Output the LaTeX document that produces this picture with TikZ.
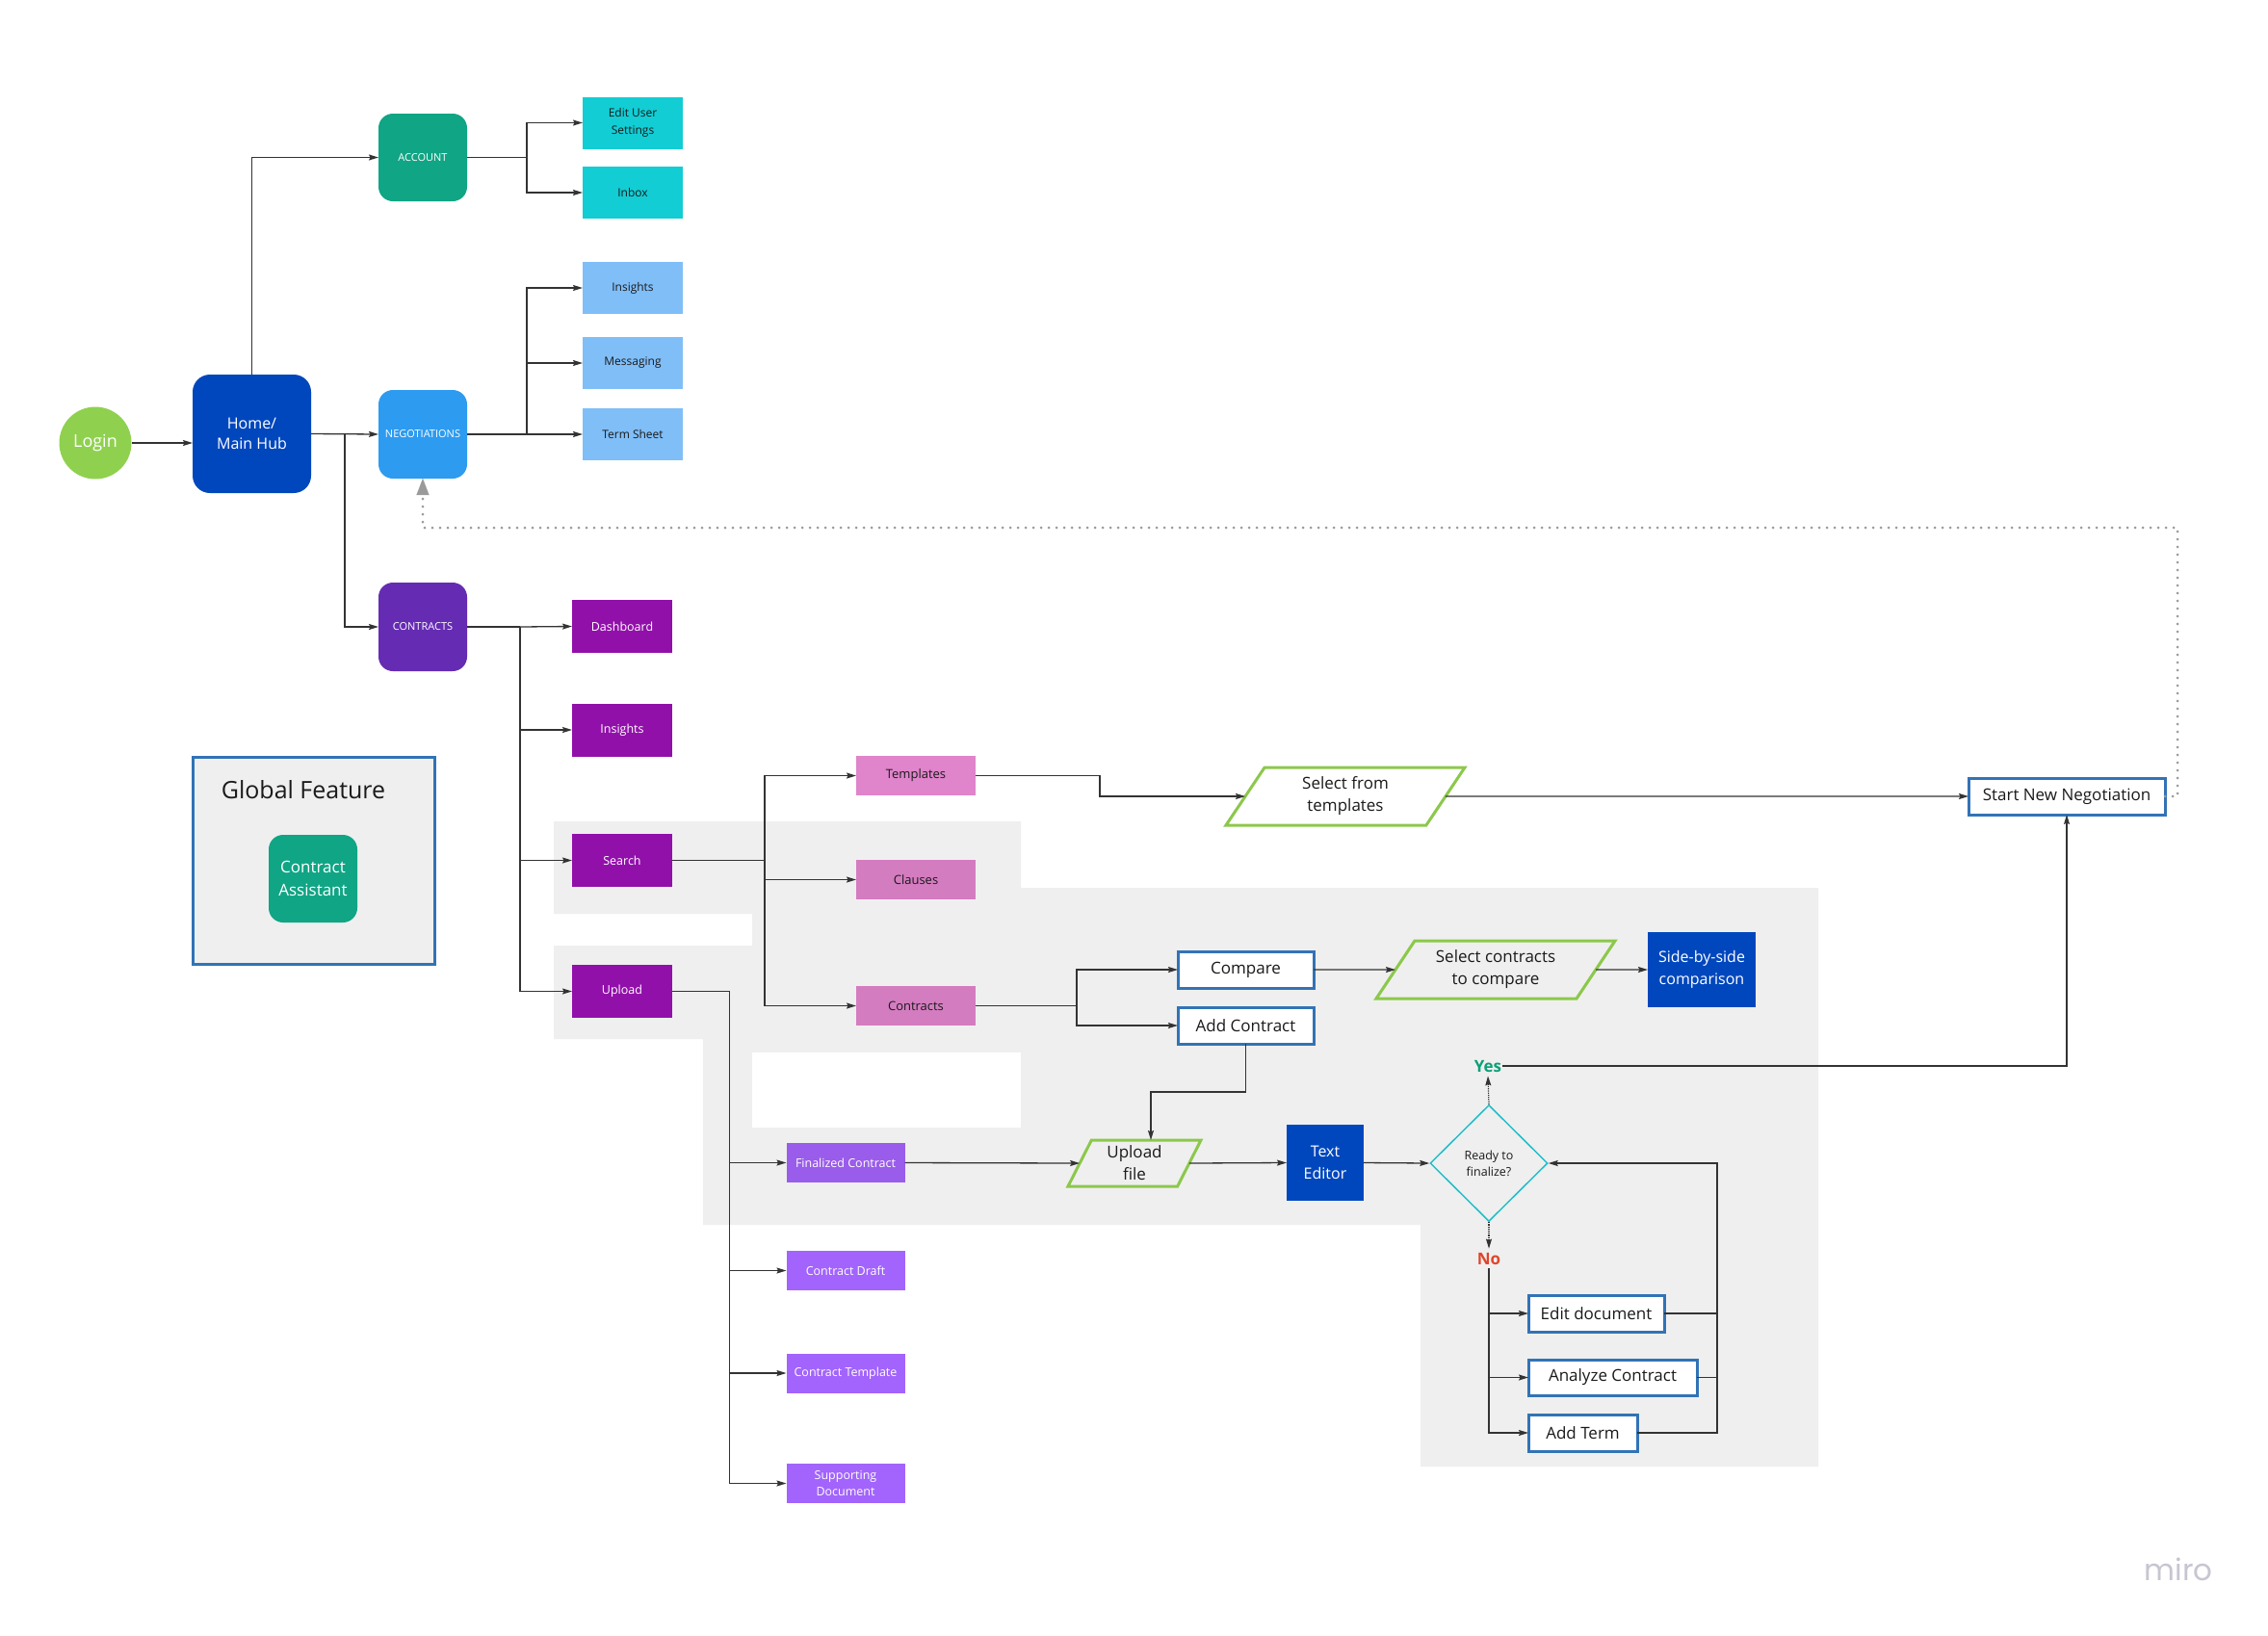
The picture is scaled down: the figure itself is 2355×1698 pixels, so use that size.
\documentclass[tikz,border=0pt]{standalone}
\usepackage{fontspec}
\setmainfont{Open Sans}
\newfontfamily\logofont{Poppins}
\usetikzlibrary{arrows.meta,shapes.geometric,calc}

\definecolor{cLogin}{HTML}{8FD14F}
\definecolor{cHome}{HTML}{0047BD}
\definecolor{cAcc}{HTML}{10A585}
\definecolor{cNeg}{HTML}{2D9BF0}
\definecolor{cCon}{HTML}{652CB3}
\definecolor{cCyan}{HTML}{12CDD4}
\definecolor{cLBlue}{HTML}{80BEF8}
\definecolor{cPurp}{HTML}{9210AA}
\definecolor{cPinkA}{HTML}{E084CB}
\definecolor{cPinkB}{HTML}{D47CC0}
\definecolor{cViolA}{HTML}{9A5CEA}
\definecolor{cViolB}{HTML}{A264FC}
\definecolor{cOut}{HTML}{3273B6}
\definecolor{cPara}{HTML}{8CC84B}
\definecolor{cDia}{HTML}{20BFCB}
\definecolor{cBg}{HTML}{EFEFEF}
\definecolor{cLine}{HTML}{333333}
\definecolor{cTxt}{HTML}{1A1A1A}
\definecolor{cYes}{HTML}{0CA078}
\definecolor{cNo}{HTML}{E0452B}
\definecolor{cDot}{HTML}{9A9A9A}
\definecolor{cMiro}{HTML}{C6C6D2}

\tikzset{
  box/.style={rectangle, inner sep=0pt, outer sep=0pt, align=center},
  rbox/.style={box, rounded corners=15pt, text=white, font=\fontsize{11}{14}\selectfont},
  subbox/.style={box, minimum width=104pt, minimum height=54pt, text=cTxt, font=\fontsize{12}{18}\selectfont},
  purbox/.style={box, fill=cPurp, minimum width=104pt, minimum height=55pt, text=white, font=\fontsize{12.5}{17}\selectfont},
  pinkbox/.style={box, minimum width=124pt, minimum height=41pt, text=cTxt, font=\fontsize{13}{17}\selectfont},
  violbox/.style={box, minimum width=123pt, minimum height=41pt, text=white, font=\fontsize{12.5}{17}\selectfont},
  outbox/.style={box, draw=cOut, line width=3pt, fill=white, minimum height=38pt, text=cTxt, font=\fontsize{17}{22}\selectfont},
  darkbox/.style={box, fill=cHome, text=white, font=\fontsize{16}{22.5}\selectfont},
  parabox/.style={trapezium, trapezium stretches body=true, draw=cPara, line width=3pt, inner sep=0pt, outer sep=0pt, align=center, text=cTxt, font=\fontsize{17}{23}\selectfont},
  ln/.style={cLine, line width=1.3pt},
  arr/.style={ln, -{Stealth[length=10pt,width=6pt,inset=1.5pt]}},
  dotarr/.style={cDot, line width=3pt, line cap=round, dash pattern=on 0pt off 8pt, -{Triangle[length=17pt,width=13pt,line width=0.1pt]}},
  smalldot/.style={cLine, line width=1.2pt, densely dotted, -{Stealth[length=10pt,width=6pt,inset=1.5pt]}},
}

\begin{document}
\begin{tikzpicture}[x=1pt, y=-1pt]
\useasboundingbox (0,0) rectangle (2355,1698);
\fill[white] (0,0) rectangle (2355,1698);

% grey background regions
\fill[cBg] (575,853) -- (1060,853) -- (1060,922) -- (1888,922) -- (1888,1523) -- (1475,1523) -- (1475,1272) -- (730,1272) -- (730,1079) -- (575,1079) -- (575,982) -- (781,982) -- (781,949) -- (575,949) -- cycle;
\fill[white] (781,1093) rectangle (1060,1171);

% global feature
\node[box, draw=cOut, line width=3pt, fill=cBg, minimum width=251pt, minimum height=215pt] (gf) at (325.5,893.5) {};
\node[text=cTxt, font=\fontsize{25}{30}\selectfont, inner sep=0pt] (gft) at (315,820) {Global Feature};
\node[rbox, fill=cAcc, minimum width=92pt, minimum height=91pt, font=\fontsize{17}{23.5}\selectfont] (ca) at (325,912.5) {Contract\\Assistant};

% main nodes
\node[circle, fill=cLogin, minimum size=75pt, inner sep=0pt, text=white, font=\fontsize{18}{22}\selectfont] (login) at (99,460) {Login};
\node[rbox, fill=cHome, minimum width=123pt, minimum height=123pt, rounded corners=18pt, font=\fontsize{16}{21}\selectfont] (home) at (261.5,450.5) {Home/\\Main Hub};
\node[rbox, fill=cAcc, minimum width=92pt, minimum height=91pt] (acc) at (439,163.5) {ACCOUNT};
\node[rbox, fill=cNeg, minimum width=92pt, minimum height=92pt] (neg) at (439,451) {NEGOTIATIONS};
\node[rbox, fill=cCon, minimum width=92pt, minimum height=92pt] (con) at (439,651) {CONTRACTS};

\node[subbox, fill=cCyan] (eus) at (657,127.5) {Edit User\\Settings};
\node[subbox, fill=cCyan] (inbox) at (657,200) {Inbox};
\node[subbox, fill=cLBlue] (insA) at (657,299) {Insights};
\node[subbox, fill=cLBlue] (msg) at (657,377) {Messaging};
\node[subbox, fill=cLBlue] (term) at (657,451) {Term Sheet};

\node[purbox] (dash) at (646,650.5) {Dashboard};
\node[purbox] (insB) at (646,758) {Insights};
\node[purbox] (search) at (646,893.5) {Search};
\node[purbox] (upload) at (646,1029.5) {Upload};

\node[pinkbox, fill=cPinkA] (tmpl) at (951,805.5) {Templates};
\node[pinkbox, fill=cPinkB] (claus) at (951,913.5) {Clauses};
\node[pinkbox, fill=cPinkB] (pcon) at (951,1044.5) {Contracts};

\node[violbox, fill=cViolA] (fin) at (878,1207.5) {Finalized Contract};
\node[violbox, fill=cViolB] (draft) at (878,1319.5) {Contract Draft};
\node[violbox, fill=cViolB] (ctpl) at (878,1426) {Contract Template};
\node[violbox, fill=cViolB] (supp) at (878,1540.5) {Supporting\\Document};

\node[parabox, trapezium left angle=45, trapezium right angle=135, minimum width=248pt, minimum height=60pt] (sft) at (1397,827) {Select from\\templates};
\node[outbox, minimum width=204pt] (snn) at (2146,827) {Start New Negotiation};
\node[outbox, minimum width=141pt] (cmp) at (1293.5,1007) {Compare};
\node[outbox, minimum width=141pt] (addc) at (1293.5,1065) {Add Contract};
\node[parabox, trapezium left angle=45, trapezium right angle=135, minimum width=248pt, minimum height=60pt] (sct) at (1553,1007) {Select contracts\\to compare};
\node[darkbox, minimum width=112pt, minimum height=78pt] (sbs) at (1767,1007) {Side-by-side\\comparison};
\node[parabox, trapezium left angle=56, trapezium right angle=124, minimum width=138pt, minimum height=48pt] (upf) at (1178,1208) {Upload\\file};
\node[darkbox, minimum width=80pt, minimum height=79pt] (ted) at (1376,1207.5) {Text\\Editor};
\node[diamond, draw=cDia, line width=1.5pt, minimum width=122pt, minimum height=121pt, inner sep=0pt, align=center, text=cTxt, font=\fontsize{12.5}{17}\selectfont] (dia) at (1546,1208) {Ready to\\finalize?};
\node[text=cYes, font=\bfseries\fontsize{17}{20}\selectfont, inner xsep=1pt, inner ysep=4pt] (yes) at (1545,1107) {Yes};
\node[text=cNo, font=\bfseries\fontsize{17}{20}\selectfont, inner xsep=1pt, inner ysep=4pt] (no) at (1546,1307) {No};
\node[outbox, minimum width=141pt] (edit) at (1657.5,1364) {Edit document};
\node[outbox, minimum width=175pt, minimum height=37pt] (anl) at (1674.5,1430.5) {Analyze Contract};
\node[outbox, minimum width=113pt] (addt) at (1643.5,1488) {Add Term};

\node[text=cMiro, font=\logofont\fontsize{31}{36}\selectfont, inner sep=0pt] (logo) at (2262,1630) {miro};

% branch coordinates
\coordinate (hb) at (358,450.5);
\coordinate (ab) at (547,163.5);
\coordinate (nb) at (547,451);
\coordinate (cb) at (540,651);
\coordinate (sb) at (794,893.5);
\coordinate (ub) at (757.5,1029.5);
\coordinate (tb) at (1142,805.5);
\coordinate (pb) at (1118,1044.5);
\coordinate (ac2) at (1195,1134);
\coordinate (rc) at (1783,1208);
\coordinate (dc) at (2261,548);

% connectors
\draw[arr] (login.east) -- (login.east -| home.west);
\draw[arr] (home.north) |- (acc.west);
\draw[arr] (home.east) -- (neg.west);
\draw[arr] (hb) |- (con.west);

\draw[ln] (acc.east) -- (ab);
\draw[arr] (ab) |- (eus.west);
\draw[arr] (ab) |- (inbox.west);

\draw[ln] (neg.east) -- (nb);
\draw[arr] (nb) |- (insA.west);
\draw[arr] (nb) |- (msg.west);
\draw[arr] (nb) -- (term.west);

\draw[ln] (con.east) -- (cb);
\draw[arr] (cb) -- (dash.west);
\draw[arr] (cb) |- (insB.west);
\draw[arr] (cb) |- (search.west);
\draw[arr] (cb) |- (upload.west);

\draw[ln] (search.east) -- (sb);
\draw[arr] (sb) |- (tmpl.west);
\draw[arr] (sb) |- (claus.west);
\draw[arr] (sb) |- (pcon.west);

\draw[ln] (upload.east) -- (ub);
\draw[arr] (ub) |- (fin.west);
\draw[arr] (ub) |- (draft.west);
\draw[arr] (ub) |- (ctpl.west);
\draw[arr] (ub) |- (supp.west);

\draw[arr] (tmpl.east) -- (tb) |- (sft.west);
\draw[arr] (sft.east) -- (snn.west);
\draw[dotarr] (snn.east) -| (dc) -| (neg.south);

\draw[ln] (pcon.east) -- (pb);
\draw[arr] (pb) |- (cmp.west);
\draw[arr] (pb) |- (addc.west);
\draw[arr] (cmp.east) -- (sct.west);
\draw[arr] (sct.east) -- (sbs.west);
\draw[arr] (addc.south) |- (ac2) -- (ac2 |- upf.north);

\draw[arr] (fin.east) -- (upf.west);
\draw[arr] (upf.east) -- (ted.west);
\draw[arr] (ted.east) -- (dia.west);
\draw[smalldot] (dia.north) -- (yes.south);
\draw[smalldot] (dia.south) -- (no.north);
\draw[arr] (yes.east) -| (snn.south);

\draw[arr] (no.south) |- (edit.west);
\draw[arr] (no.south) |- (anl.west);
\draw[arr] (no.south) |- (addt.west);
\draw[ln] (edit.east) -- (edit.east -| rc);
\draw[ln] (anl.east) -- (anl.east -| rc);
\draw[arr] (addt.east) -| (rc) -- (dia.east);
\end{tikzpicture}
\end{document}
